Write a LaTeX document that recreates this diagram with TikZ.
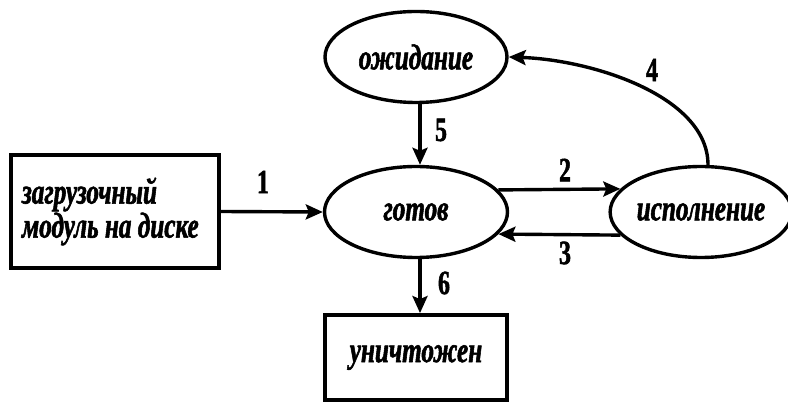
\documentclass[tikz,border=0pt]{standalone}
\usepackage{fontspec}
\setmainfont{Liberation Serif}
\newfontfamily\diagfont[FakeStretch=0.7, FakeBold=1.5,
  UprightFont={Liberation Serif Bold},
  ItalicFont={Liberation Serif Bold Italic},
  BoldFont={Liberation Serif Bold},
  BoldItalicFont={Liberation Serif Bold Italic}]{Liberation Serif}
\usetikzlibrary{shapes.geometric,arrows.meta,calc}
\begin{document}
\begin{tikzpicture}[x=1pt,y=-1pt,
  txt/.style={font=\diagfont\itshape\fontsize{36}{36}\selectfont},
  num/.style={font=\diagfont\fontsize{34}{34}\selectfont, inner sep=0pt},
  state/.style={ellipse, draw, line width=3.4pt, inner sep=0pt, txt},
  box/.style={rectangle, draw, line width=3.8pt, inner sep=0pt, txt, align=left},
  arr/.style={line width=3.4pt, -{Stealth[length=17pt,width=15pt,inset=3pt]}}]
\useasboundingbox (0,0) rectangle (788,403);
\node[box, minimum width=208pt, minimum height=113pt] (disk) at (115,211.5)
  {\parbox{186pt}{\baselineskip=34pt загрузочный\\модуль на диске}};
\node[state, minimum width=182pt, minimum height=91pt] (wait) at (416,57) {ожидание};
\node[state, minimum width=183pt, minimum height=91pt] (ready) at (416,212) {готов};
\node[state, minimum width=172pt, minimum height=91pt] (run) at (701,212) {исполнение};
\node[box, minimum width=182pt, minimum height=85pt] (dead) at (416,357.5) {уничтожен};

\draw[arr] (disk.east) -- (ready.west);
\draw[arr] (ready.15) -- (run.164);
\draw[arr] (run.196) -- (ready.345);
\draw[arr] ($(run.north)+(7,0)$) .. controls ($(run.north)+(7,-68)$) and ($(wait.east)+(85,3)$) .. (wait.east);
\draw[arr] ($(wait.south)+(4,0)$) -- ($(ready.north)+(4,0)$);
\draw[arr] ($(ready.south)+(4,0)$) -- ($(dead.north)+(4,0)$);

\node[num] (n1) at (263,182) {1};
\node[num] (n2) at (565,170) {2};
\node[num] (n3) at (565,253) {3};
\node[num] (n4) at (652,70) {4};
\node[num] (n5) at (441,130) {5};
\node[num] (n6) at (444,283) {6};
\end{tikzpicture}
\end{document}
